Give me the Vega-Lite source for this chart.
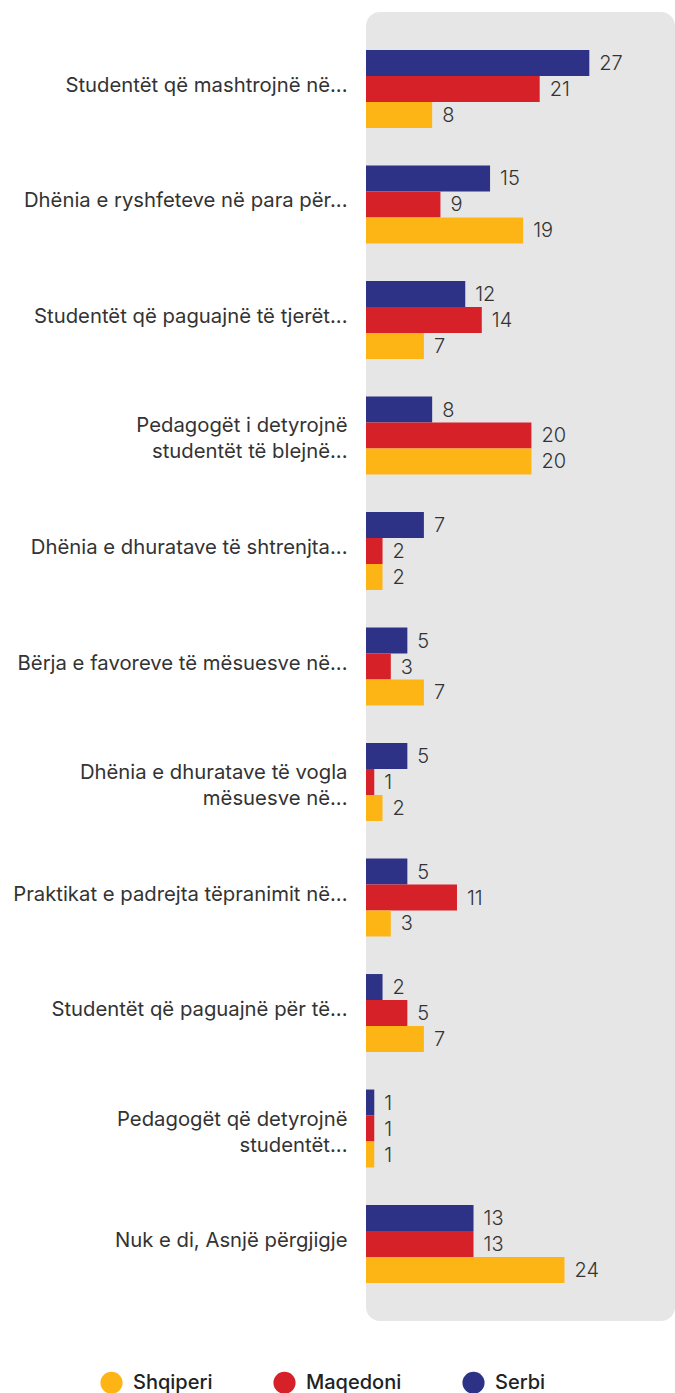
{
  "$schema": "https://vega.github.io/schema/vega-lite/v6.json",
  "width": 309,
  "height": 1309,
  "autosize": {"type": "none"},
  "padding": {"left": 366, "top": 12, "right": 0, "bottom": 72},
  "background": "white",
  "config": {
    "view": {"fill": "#E6E6E6", "stroke": null, "cornerRadius": 14},
    "font": "Inter",
    "text": {"font": "Inter"}
  },
  "data": {
    "values": [
      {"cat": "Studentët që mashtrojnë në...", "series": "Serbi", "value": 27},
      {"cat": "Studentët që mashtrojnë në...", "series": "Maqedoni", "value": 21},
      {"cat": "Studentët që mashtrojnë në...", "series": "Shqiperi", "value": 8},
      {"cat": "Dhënia e ryshfeteve në para për...", "series": "Serbi", "value": 15},
      {"cat": "Dhënia e ryshfeteve në para për...", "series": "Maqedoni", "value": 9},
      {"cat": "Dhënia e ryshfeteve në para për...", "series": "Shqiperi", "value": 19},
      {"cat": "Studentët që paguajnë të tjerët...", "series": "Serbi", "value": 12},
      {"cat": "Studentët që paguajnë të tjerët...", "series": "Maqedoni", "value": 14},
      {"cat": "Studentët që paguajnë të tjerët...", "series": "Shqiperi", "value": 7},
      {"cat": "Pedagogët i detyrojnë|studentët të blejnë...", "series": "Serbi", "value": 8},
      {"cat": "Pedagogët i detyrojnë|studentët të blejnë...", "series": "Maqedoni", "value": 20},
      {"cat": "Pedagogët i detyrojnë|studentët të blejnë...", "series": "Shqiperi", "value": 20},
      {"cat": "Dhënia e dhuratave të shtrenjta...", "series": "Serbi", "value": 7},
      {"cat": "Dhënia e dhuratave të shtrenjta...", "series": "Maqedoni", "value": 2},
      {"cat": "Dhënia e dhuratave të shtrenjta...", "series": "Shqiperi", "value": 2},
      {"cat": "Bërja e favoreve të mësuesve në...", "series": "Serbi", "value": 5},
      {"cat": "Bërja e favoreve të mësuesve në...", "series": "Maqedoni", "value": 3},
      {"cat": "Bërja e favoreve të mësuesve në...", "series": "Shqiperi", "value": 7},
      {"cat": "Dhënia e dhuratave të vogla|mësuesve në...", "series": "Serbi", "value": 5},
      {"cat": "Dhënia e dhuratave të vogla|mësuesve në...", "series": "Maqedoni", "value": 1},
      {"cat": "Dhënia e dhuratave të vogla|mësuesve në...", "series": "Shqiperi", "value": 2},
      {"cat": "Praktikat e padrejta tëpranimit në...", "series": "Serbi", "value": 5},
      {"cat": "Praktikat e padrejta tëpranimit në...", "series": "Maqedoni", "value": 11},
      {"cat": "Praktikat e padrejta tëpranimit në...", "series": "Shqiperi", "value": 3},
      {"cat": "Studentët që paguajnë për të...", "series": "Serbi", "value": 2},
      {"cat": "Studentët që paguajnë për të...", "series": "Maqedoni", "value": 5},
      {"cat": "Studentët që paguajnë për të...", "series": "Shqiperi", "value": 7},
      {"cat": "Pedagogët që detyrojnë|studentët...", "series": "Serbi", "value": 1},
      {"cat": "Pedagogët që detyrojnë|studentët...", "series": "Maqedoni", "value": 1},
      {"cat": "Pedagogët që detyrojnë|studentët...", "series": "Shqiperi", "value": 1},
      {"cat": "Nuk e di, Asnjë përgjigje", "series": "Serbi", "value": 13},
      {"cat": "Nuk e di, Asnjë përgjigje", "series": "Maqedoni", "value": 13},
      {"cat": "Nuk e di, Asnjë përgjigje", "series": "Shqiperi", "value": 24}
    ]
  },
  "encoding": {
    "y": {
      "field": "cat",
      "type": "nominal",
      "sort": null,
      "scale": {"paddingInner": 0.325, "paddingOuter": 0.329},
      "axis": {
        "title": null,
        "domain": false,
        "ticks": false,
        "labelPadding": 19,
        "labelFont": "Inter",
        "labelFontSize": 20.3,
        "labelColor": "#333333",
        "labelLineHeight": 26,
        "labelLimit": 400,
        "labelExpr": "split(datum.label, '|')",
        "labelOffset": {"condition": {"test": "indexof(datum.value, '|') >= 0", "value": -9}, "value": -3}
      }
    },
    "yOffset": {
      "field": "series",
      "type": "nominal",
      "sort": ["Serbi", "Maqedoni", "Shqiperi"],
      "scale": {"paddingInner": 0, "paddingOuter": 0}
    },
    "x": {
      "field": "value",
      "type": "quantitative",
      "scale": {"domain": [0, 37.36], "nice": false, "zero": true},
      "axis": null
    }
  },
  "layer": [
    {
      "mark": {"type": "bar", "cornerRadius": 0},
      "encoding": {
        "color": {
          "field": "series",
          "type": "nominal",
          "scale": {
            "domain": ["Shqiperi", "Maqedoni", "Serbi"],
            "range": ["#FDB515", "#D62128", "#2E3287"]
          },
          "legend": {
            "title": null,
            "orient": "none",
            "direction": "horizontal",
            "legendX": -266,
            "legendY": 1359,
            "symbolType": "circle",
            "symbolSize": 490,
            "symbolStrokeWidth": 0,
            "symbolOpacity": 1,
            "labelFont": "Inter",
            "labelFontSize": 20,
            "labelFontWeight": 500,
            "labelColor": "#222222",
            "labelOffset": 10,
            "columnPadding": 60,
            "padding": 0
          }
        }
      }
    },
    {
      "mark": {"type": "text", "align": "left", "baseline": "middle", "dx": 10, "dy": 1, "fontSize": 20, "font": "Inter", "fontWeight": 300, "color": "#333333"},
      "encoding": {
        "text": {"field": "value", "type": "quantitative"}
      }
    }
  ]
}
